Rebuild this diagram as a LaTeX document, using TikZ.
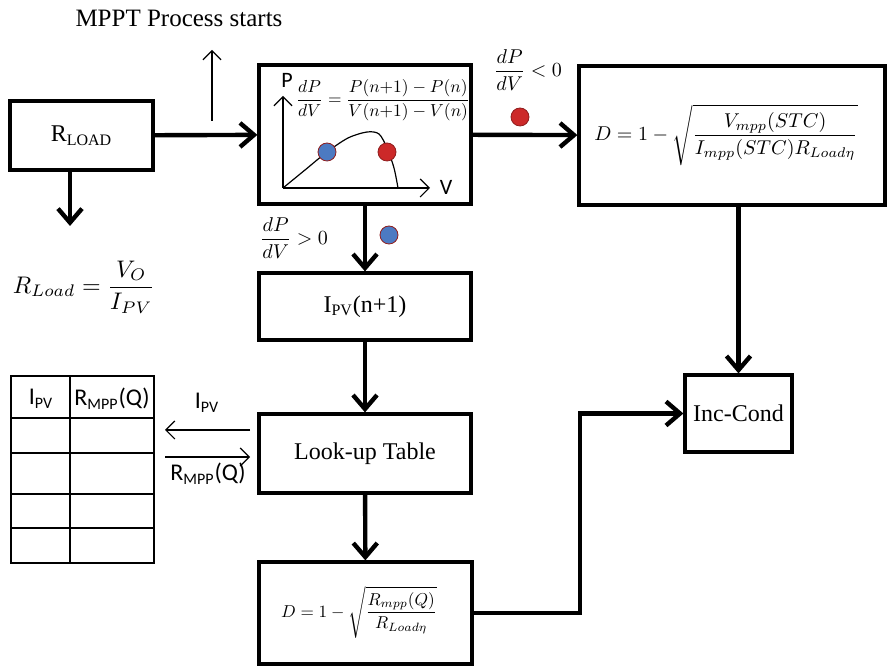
\documentclass[tikz,border=0pt]{standalone}
\usepackage{amsmath}
\usepackage{fontspec}
\setmainfont{Liberation Serif}
\newfontfamily\calfont{Carlito}
\usetikzlibrary{arrows.meta}
\definecolor{dotred}{rgb}{0.80,0.16,0.16}
\definecolor{dotblue}{rgb}{0.30,0.48,0.76}
\tikzstyle{mpptbox}=[rectangle, draw, line width=1.6pt, inner sep=0pt, font=\fontsize{12}{14}\selectfont]
\tikzstyle{thickarrow}=[line width=2.2pt, -{Straight Barb[length=7pt,width=12pt]}]
\tikzstyle{thinarrow}=[line width=0.6pt, -{Straight Barb[length=4.5pt,width=9pt]}]
\tikzstyle{tabline}=[line width=0.9pt]
\tikzstyle{callabel}=[font=\calfont\fontsize{12}{14}\selectfont]
\tikzstyle{pvdot}=[circle, inner sep=0pt, minimum size=9pt, draw=dotred!70!black, line width=0.4pt]
\newcommand{\mpptbox}[5]{
	\node[mpptbox, minimum width=#3, minimum height=#4] (#1) at (#2) {#5};}
\newcommand{\pvdot}[3]{
	\node[pvdot, fill=#3] (#1) at (#2) {};}

\begin{document}
\begin{tikzpicture}[x=0.5pt,y=-0.5pt]
\useasboundingbox (0,0) rectangle (889,667);

\node[font=\fontsize{12.5}{14}\selectfont] (start) at (179,18) {MPPT Process starts};
\coordinate (startfoot) at (212,121);
\coordinate (starttip) at (212,50);
\draw[thinarrow] (startfoot) -- (starttip);

\mpptbox{rload}{81.5,135.5}{71.5pt}{34.5pt}{R\textsubscript{LOAD}}
\mpptbox{slope}{365,134.5}{106pt}{69.5pt}{}
\mpptbox{dstc}{732,135.5}{153pt}{69.5pt}{}
\mpptbox{incc}{738.5,413.5}{53.5pt}{38.5pt}{Inc-Cond}
\mpptbox{ipv}{365,306.5}{106pt}{33.5pt}{I\textsubscript{PV}(n+1)}
\mpptbox{lut}{365,453.5}{106pt}{39.5pt}{Look-up Table}
\mpptbox{dlut}{365.5,613}{106.5pt}{51pt}{}
\node (dstceq) at (726,135) {$D=1-\sqrt{\dfrac{V_{mpp}(STC)}{I_{mpp}(STC)R_{Load\eta}}}$};
\node (dluteq) at (359,612) {\scalebox{0.86}{$D=1-\sqrt{\dfrac{R_{mpp}(Q)}{R_{Load\eta}}}$}};

\coordinate (orig) at (283,188);
\coordinate (ptop) at (283,96);
\coordinate (vend) at (430,188);
\draw[thinarrow] (orig) -- (ptop);
\draw[thinarrow] (orig) -- (vend);
\node[font=\calfont\fontsize{11}{13}\selectfont] (plbl) at (287,80) {P};
\node[font=\calfont\fontsize{11}{13}\selectfont] (vlbl) at (446,187) {V};
\draw[line width=0.6pt] plot[smooth] coordinates {(283,188) (305,170) (327,152) (348,138) (367,132) (379,134) (387,148) (394,168) (398,188)};
\node (slopeeq) at (383,100) {\scalebox{0.87}{$\dfrac{dP}{dV}=\dfrac{P(n{+}1)-P(n)}{V(n{+}1)-V(n)}$}};
\pvdot{gblue}{327,152}{dotblue}
\pvdot{gred}{387,152}{dotred}

\node (neglbl) at (528,70) {$\dfrac{dP}{dV}<0$};
\pvdot{negdot}{520,117}{dotred}
\node (poslbl) at (294,238) {$\dfrac{dP}{dV}>0$};
\pvdot{posdot}{389,235}{dotblue}

\coordinate (rloadend) at (70,226);
\node (rloadeq) at (84,287) {\scalebox{1.2}{$R_{Load}=\dfrac{V_O}{I_{PV}}$}};

\draw[thickarrow] (rload) -- (slope);
\draw[thickarrow] (slope) -- (dstc);
\draw[thickarrow] (rload.south -| rloadend) -- (rloadend);
\draw[thickarrow] (slope) -- (ipv);
\draw[thickarrow] (ipv) -- (lut);
\draw[thickarrow] (lut) -- (dlut);
\draw[thickarrow] (dstc.south -| incc) -- (incc);
\coordinate (bend) at (580,413.5);
\draw[thickarrow] (dlut.east) -| (bend) -- (incc.west);

\draw[tabline] (11,376) rectangle (154,563);
\draw[tabline] (70,376) -- (70,563);
\foreach \ty in {418,453,494,528}
	\draw[tabline] (11,\ty) -- (154,\ty);
\node[callabel] (hipv) at (41,399) {I\textsubscript{PV}};
\node[callabel] (hrmpp) at (112,399) {R\textsubscript{MPP}(Q)};

\coordinate (ipvfrom) at (250,430);
\coordinate (ipvto) at (165,430);
\coordinate (rmppfrom) at (165,457);
\coordinate (rmppto) at (250,457);
\draw[thinarrow] (ipvfrom) -- (ipvto);
\draw[thinarrow] (rmppfrom) -- (rmppto);
\node[callabel] (ipvlbl) at (207,403) {I\textsubscript{PV}};
\node[callabel] (rmpplbl) at (208,474) {R\textsubscript{MPP}(Q)};
\end{tikzpicture}
\end{document}
